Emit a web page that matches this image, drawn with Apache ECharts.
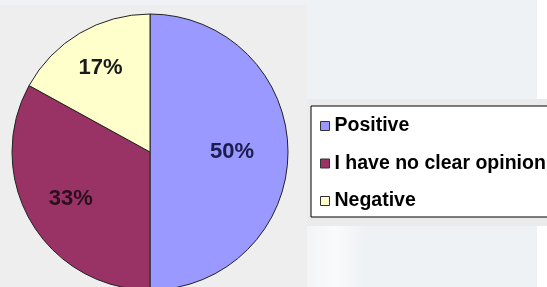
<!DOCTYPE html>
<html>
<head>
<meta charset="utf-8">
<title>Opinion pie</title>
<script src="https://cdn.jsdelivr.net/npm/echarts@6/dist/echarts.min.js"></script>
<style>
  html, body { margin: 0; padding: 0; background: #ffffff; }
  #chart { width: 547px; height: 287px; }
</style>
</head>
<body>
<div id="chart"></div>
<script>
// data
var names = ['Positive', 'I have no clear opinion', 'Negative'];
var values = [50, 33, 17];

// styles
var sliceColors = ['#9999ff', '#993366', '#ffffcc'];
var labelColors = ['#1c1c4e', '#2a0f1e', '#1a1a1a'];
var labelRadius = [0.57, 0.64, 0.675];   // share of the radius where each % label sits
var pieCenter = [150, 152];
var pieR = 138;

var chart = echarts.init(document.getElementById('chart'));

var pieData = names.map(function (n, i) {
  return {
    name: n,
    value: values[i],
    itemStyle: { color: sliceColors[i] },
    label: { color: labelColors[i] }
  };
});

var option = {
  backgroundColor: '#ffffff',
  animation: false,
  graphic: [
    { type: 'rect', z: -10, silent: true, shape: { x: 0, y: 0, width: 307, height: 287 }, style: { fill: '#eeeeee' } },
    { type: 'rect', z: -10, silent: true, shape: { x: 0, y: 0, width: 537, height: 5 }, style: { fill: '#eff2f5' } },
    { type: 'rect', z: -10, silent: true, shape: { x: 307, y: 0, width: 230, height: 99 }, style: { fill: '#eff2f5' } },
    { type: 'rect', z: -10, silent: true, shape: { x: 307, y: 99, width: 240, height: 127 }, style: { fill: '#ebebeb' } },
    {
      type: 'rect', z: -10, silent: true,
      shape: { x: 307, y: 226, width: 230, height: 61 },
      style: {
        fill: new echarts.graphic.LinearGradient(0, 0, 1, 0, [
          { offset: 0, color: '#f2f4f6' },
          { offset: 0.12, color: '#f9fafb' },
          { offset: 0.25, color: '#eff2f5' },
          { offset: 1, color: '#eff2f5' }
        ])
      }
    }
  ],
  legend: {
    orient: 'vertical',
    left: 311,
    top: 106,
    padding: [10, 40, 6, 9],
    itemGap: 17.5,
    itemWidth: 9,
    itemHeight: 9,
    icon: 'rect',
    backgroundColor: '#ffffff',
    borderColor: '#000000',
    borderWidth: 1,
    borderRadius: 0,
    itemStyle: { borderColor: '#333333', borderWidth: 1 },
    textStyle: {
      fontFamily: 'Liberation Sans, Arial, sans-serif',
      fontWeight: 'bold',
      fontSize: 19.5,
      lineHeight: 20,
      color: '#000000'
    },
    data: names
  },
  series: [{
    name: 'Opinion',
    type: 'pie',
    center: pieCenter,
    radius: pieR,
    startAngle: 90,
    clockwise: true,
    silent: true,
    itemStyle: { borderColor: '#222222', borderWidth: 1 },
    label: {
      show: true,
      position: 'inside',
      formatter: '{d}%',
      fontFamily: 'Liberation Sans, Arial, sans-serif',
      fontWeight: 'bold',
      fontSize: 22
    },
    labelLine: { show: false },
    labelLayout: function (params) {
      var r = params.labelRect;
      var cx = r.x + r.width / 2, cy = r.y + r.height / 2;
      var k = labelRadius[params.dataIndex] / 0.5;
      return {
        x: pieCenter[0] + (cx - pieCenter[0]) * k,
        y: pieCenter[1] + (cy - pieCenter[1]) * k,
        align: 'center',
        verticalAlign: 'middle'
      };
    },
    data: pieData
  }]
};

chart.setOption(option);
</script>
</body>
</html>
